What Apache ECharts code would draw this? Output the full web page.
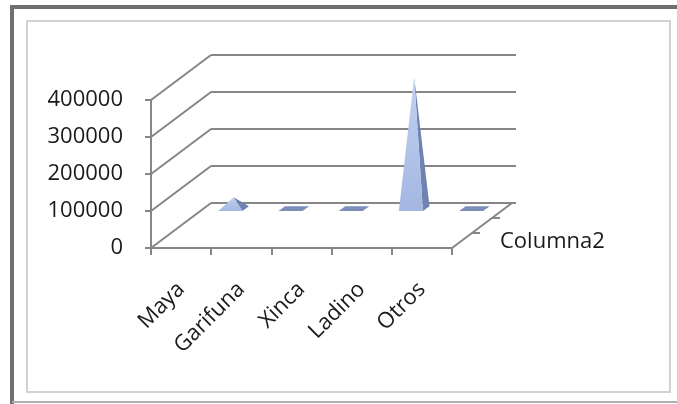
<!DOCTYPE html>
<html>
<head>
<meta charset="utf-8">
<script src="https://cdn.jsdelivr.net/npm/echarts@6/dist/echarts.min.js"></script>
<style>
  html, body { margin: 0; padding: 0; background: #ffffff; }
  #chart { width: 677px; height: 404px; }
</style>
</head>
<body>
<div id="chart"></div>
<script>
// ---- data ----
const categories = ['Maya', 'Garifuna', 'Xinca', 'Ladino', 'Otros'];
const values = [31000, 0, 0, 356000, 0];
const seriesName = 'Columna2';
const yTicks = [0, 100000, 200000, 300000, 400000];

// ---- pseudo-3D settings (pixels / fractions) ----
const DX = 60, DY = -45;          // full depth offset of back wall
const T1 = 0.82, T2 = 0.93, TC = 0.875; // depth of pyramid base front/back/centre
const FONT = 'Open Sans';
const GRID_COLOR = '#868686';

const chart = echarts.init(document.getElementById('chart'), null, { renderer: 'canvas' });

function renderWalls(params, api) {
  const band = api.size([1, 0])[0];
  const c0 = api.coord([0, 0]);
  const cN = api.coord([categories.length - 1, 0]);
  const xl = c0[0] - band / 2;
  const xr = cN[0] + band / 2;
  const y0 = c0[1];
  const ls = { stroke: GRID_COLOR, lineWidth: 2 };
  const children = [];
  yTicks.forEach(function (v) {
    const y = api.coord([0, v])[1];
    children.push({ type: 'line', shape: { x1: xl, y1: y, x2: xl + DX, y2: y + DY }, style: ls });
    children.push({ type: 'line', shape: { x1: xl + DX, y1: y + DY, x2: xr + DX + 4, y2: y + DY }, style: ls });
  });
  // right floor edge (depth axis)
  children.push({ type: 'line', shape: { x1: xr, y1: y0, x2: xr + DX, y2: y0 + DY }, style: ls });
  [1 / 3, 2 / 3].forEach(function (t) {
    const px = xr + DX * t, py = y0 + DY * t;
    children.push({ type: 'line', shape: { x1: px, y1: py, x2: px + 8, y2: py }, style: ls });
  });
  children.push({
    type: 'text',
    style: {
      text: seriesName,
      x: xr + DX * 0.5 + 18,
      y: y0 + DY * 0.5 + 16,
      fill: '#1a1a1a',
      font: '22px "' + FONT + '"',
      textAlign: 'left',
      textVerticalAlign: 'middle'
    }
  });
  return { type: 'group', children: children };
}

function renderPyramid(params, api) {
  const i = api.value(0), v = api.value(1);
  const base = api.coord([i, 0]);
  const top = api.coord([i, v]);
  const band = api.size([1, 0])[0];
  const bw = band * 0.4;
  const fl = [base[0] - bw / 2 + T1 * DX, base[1] + T1 * DY];
  const fr = [base[0] + bw / 2 + T1 * DX, base[1] + T1 * DY];
  const br = [base[0] + bw / 2 + T2 * DX, base[1] + T2 * DY];
  const bl = [base[0] - bw / 2 + T2 * DX, base[1] + T2 * DY];
  const apex = [base[0] + TC * DX, top[1] + TC * DY];
  if (v > 0) {
    return {
      type: 'group',
      children: [
        { type: 'polygon', shape: { points: [fr, br, apex] }, style: { fill: '#6f83b0' } },
        {
          type: 'polygon', shape: { points: [fl, fr, apex] },
          style: {
            fill: new echarts.graphic.LinearGradient(0, 0, 0, 1, [
              { offset: 0, color: '#c3d1f0' },
              { offset: 1, color: '#a3b7e2' }
            ])
          }
        }
      ]
    };
  }
  return {
    type: 'polygon',
    shape: { points: [fl, fr, br, bl] },
    style: { fill: '#7d8fb8' }
  };
}

const option = {
  backgroundColor: '#ffffff',
  animation: false,
  graphic: [
    { type: 'rect', shape: { x: 27, y: 21, width: 643, height: 371 }, style: { fill: 'none', stroke: '#d2d2d2', lineWidth: 2 }, z: -10 },
    { type: 'line', shape: { x1: 12, y1: 7, x2: 677, y2: 7 }, style: { stroke: '#707070', lineWidth: 4 }, z: -10 },
    { type: 'line', shape: { x1: 12, y1: 5, x2: 12, y2: 404 }, style: { stroke: '#707070', lineWidth: 4 }, z: -10 },
    { type: 'line', shape: { x1: 12, y1: 402, x2: 677, y2: 402 }, style: { stroke: '#b0b0b0', lineWidth: 2 }, z: -10 }
  ],
  grid: { left: 151, right: 225, top: 100, bottom: 156, containLabel: false },
  xAxis: {
    type: 'category',
    data: categories,
    boundaryGap: true,
    axisLine: { show: true, lineStyle: { color: GRID_COLOR, width: 2 } },
    axisTick: { show: true, length: 7, alignWithLabel: false, lineStyle: { color: GRID_COLOR, width: 2 } },
    axisLabel: { rotate: 45, margin: 38, fontFamily: FONT, fontSize: 22, color: '#1a1a1a', interval: 0 },
    splitLine: { show: false }
  },
  yAxis: {
    type: 'value',
    min: 0,
    max: 400000,
    interval: 100000,
    axisLine: { show: true, lineStyle: { color: GRID_COLOR, width: 2 } },
    axisTick: { show: true, length: 6, lineStyle: { color: GRID_COLOR, width: 2 } },
    axisLabel: {
      margin: 28, fontFamily: FONT, fontSize: 22, color: '#1a1a1a',
      padding: [5, 0, 0, 0],
      formatter: function (v) { return String(v); }
    },
    splitLine: { show: false }
  },
  series: [
    {
      type: 'custom',
      name: 'walls',
      renderItem: renderWalls,
      data: [[0, 0]],
      z: 1,
      silent: true
    },
    {
      type: 'custom',
      name: seriesName,
      renderItem: renderPyramid,
      data: values.map(function (v, i) { return [i, v]; }),
      z: 3
    }
  ]
};

chart.setOption(option);
</script>
</body>
</html>
